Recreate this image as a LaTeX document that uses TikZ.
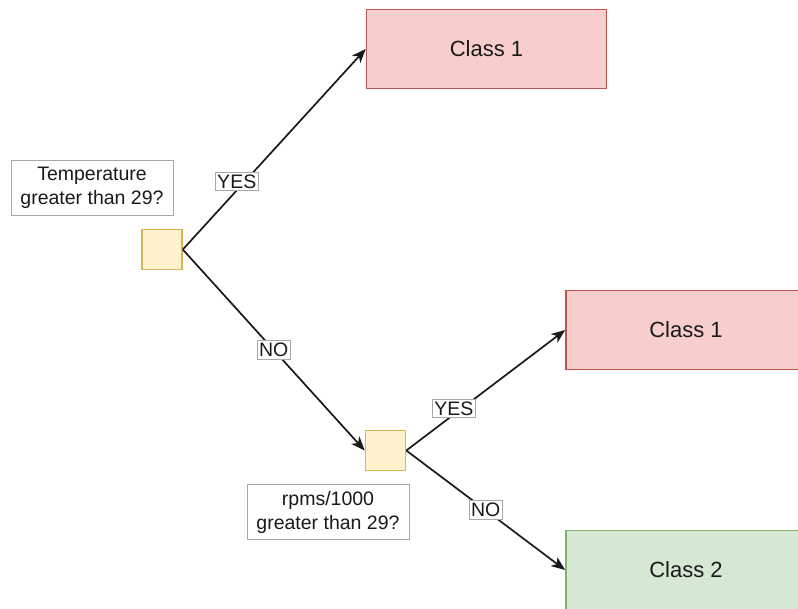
\documentclass[tikz,border=0pt]{standalone}
\usepackage{fontspec}
\setmainfont{Liberation Sans}
\usetikzlibrary{arrows.meta}
\definecolor{redfill}{HTML}{F8CECC}
\definecolor{redline}{HTML}{B85450}
\definecolor{greenfill}{HTML}{D5E8D4}
\definecolor{greenline}{HTML}{82B366}
\definecolor{yellowfill}{HTML}{FFF2CC}
\definecolor{yellowline}{HTML}{D6B656}
\definecolor{textcol}{HTML}{1A1A1A}
\definecolor{labelline}{HTML}{A8A8A8}
\tikzset{
  decision/.style={draw=yellowline, fill=yellowfill, line width=1.6pt,
    minimum width=40pt, minimum height=40pt, inner sep=0pt},
  classA/.style={draw=redline, fill=redfill, line width=1.6pt,
    minimum width=240pt, minimum height=79pt, font=\fontsize{22}{26}\selectfont, text=textcol},
  classB/.style={classA, draw=greenline, fill=greenfill},
  question/.style={draw=labelline, fill=white, line width=0.8pt, align=center,
    minimum width=162pt, minimum height=55pt, inner sep=0pt,
    font=\fontsize{19.5}{24}\selectfont, text=textcol},
  branch/.style={draw=black!90, line width=1.7pt,
    -{Stealth[length=14pt, width=11pt, inset=4pt]}},
  answer/.style={draw=labelline, fill=white, line width=0.8pt, inner xsep=2pt, inner ysep=2.5pt,
    font=\fontsize{19.5}{22}\selectfont, text=textcol}
}
\begin{document}
\begin{tikzpicture}[x=1pt, y=-1pt]
  \useasboundingbox (0,0) rectangle (798,608);
  \begin{scope}
    \clip (0,0) rectangle (798,608);
    % decision points
    \node[decision] (root) at (162,249.5) {};
    \node[decision] (rpm) at (385.5,450.5) {};
    % question captions
    \node[question] (qtemp) at (92,187.5) {Temperature\\greater than 29?};
    \node[question] (qrpm) at (328,512) {rpms/1000\\greater than 29?};
    % leaf classes
    \node[classA] (leafA) at (486.5,49) {Class 1};
    \node[classA] (leafB) at (686,330) {Class 1};
    \node[classB] (leafC) at (686,570) {Class 2};
    % branches
    \draw[branch] (root.east) -- node[answer, pos=0.295, yshift=9pt] {YES} (leafA.west);
    \draw[branch] (root.east) -- node[answer, pos=0.5] {NO} (rpm.west);
    \draw[branch] (rpm.east) -- node[answer, pos=0.3, yshift=6pt] {YES} (leafB.west);
    \draw[branch] (rpm.east) -- node[answer, pos=0.5] {NO} (leafC.west);
  \end{scope}
\end{tikzpicture}
\end{document}
